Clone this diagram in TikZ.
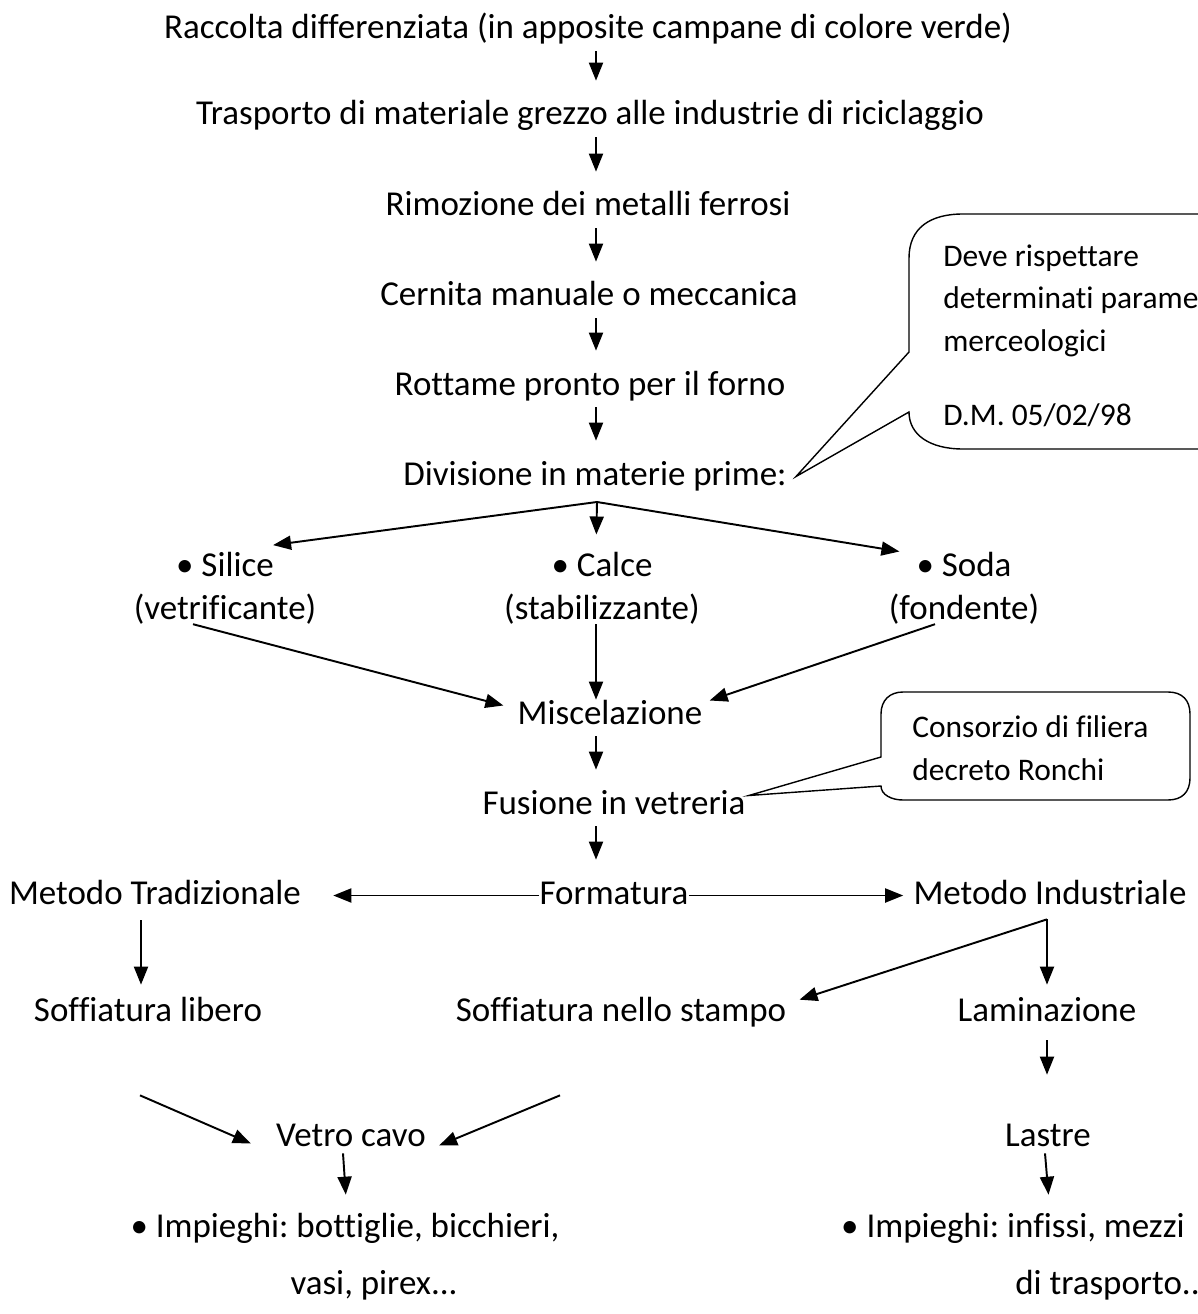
\documentclass[tikz,border=0pt]{standalone}
\usepackage{fontspec}
\setmainfont{Carlito}[Ligatures=NoCommon]
\usetikzlibrary{arrows.meta, positioning}
\frenchspacing

\begin{document}
\begin{tikzpicture}[
  x=0.02cm, y=-0.02cm,
  txt/.style={inner sep=0pt, anchor=base, font=\fontsize{19.9}{24.4}\selectfont, text height=0.48cm, text depth=0.14cm},
  twoline/.style={inner sep=0pt, anchor=base, align=center, font=\fontsize{19.9}{24.4}\selectfont},
  note/.style={inner sep=0pt, anchor=base west, align=left, font=\fontsize{17.9}{24.2}\selectfont},
  arrow/.style={-{Triangle[length=0.36cm, width=0.28cm]}, line width=1.1pt},
  down/.style={arrow, shorten <=0.1cm, shorten >=0.4cm},
  bubble/.style={line width=0.8pt, line join=miter}
]
\useasboundingbox (0,0) rectangle (1197,1314);
\coordinate (axis) at (596,0);

% main chain
\node[txt] (raccolta) at (588,39) {Raccolta differenziata (in apposite campane di colore verde)};
\node[txt] (trasporto) at (590,125) {Trasporto di materiale grezzo alle industrie di riciclaggio};
\node[txt] (rimozione) at (588,216) {Rimozione dei metalli ferrosi};
\node[txt] (cernita) at (589,306) {Cernita manuale o meccanica};
\node[txt] (rottame) at (590,395) {Rottame pronto per il forno};
\node[txt] (divisione) at (595,485) {Divisione in materie prime:};

% the base of a two-line node is its last line
\node[twoline] (silice) at (225,619) {• Silice\\(vetrificante)};
\node[twoline] (calce) at (602,619) {• Calce\\(stabilizzante)};
\node[twoline] (soda) at (964,619) {• Soda\\(fondente)};

\node[txt] (misc) at (610,724) {Miscelazione};
\node[txt] (fusione) at (614,814) {Fusione in vetreria};
\node[txt] (formatura) at (614,904) {Formatura};
\node[txt] (trad) at (155,904) {Metodo Tradizionale};
\node[txt] (indus) at (1050,904) {Metodo Industriale};

\node[txt] (soffl) at (148,1021) {Soffiatura libero};
\node[txt] (soffs) at (621,1021) {Soffiatura nello stampo};
\node[txt] (lamin) at (1047,1021) {Laminazione};
\node[txt] (vetro) at (351,1146) {Vetro cavo};
\node[txt] (lastre) at (1048,1146) {Lastre};
\node[twoline, font=\fontsize{19.9}{32.3}\selectfont] (impl) at (345,1294) {• Impieghi: bottiglie, bicchieri,\\\hspace*{1.16cm}vasi, pirex...};
\node[twoline, align=right, anchor=base east, font=\fontsize{19.9}{32.3}\selectfont] (impr) at (1185,1294) {• Impieghi: infissi, mezzi\\di trasporto..\hspace*{-0.3cm}};

% callouts
\draw[bubble] (909,352) -- (909,258) .. controls (909,228) and (930,214) .. (963,214)
  -- (1300,214) -- (1300,449) -- (963,449) .. controls (930,449) and (909,435) .. (909,412)
  -- ([xshift=0.18cm]divisione.east) -- cycle;
\node[note] (nota1) at (943,425) {Deve rispettare\\determinati parametri\\merceologici\\[0.62cm]D.M. 05/02/98};

\draw[bubble] (881,757) -- (881,714) .. controls (881,700) and (890,692) .. (903,692)
  -- (1168,692) .. controls (1182,692) and (1190,700) .. (1190,714)
  -- (1190,778) .. controls (1190,792) and (1182,800) .. (1168,800)
  -- (903,800) .. controls (892,800) and (881,795) .. (881,786)
  -- ([shift={(3,-10)}]fusione.east) -- cycle;
\node[note] (nota2) at (912,780) {Consorzio di filiera\\decreto Ronchi};

% arrows
\draw[down] (raccolta.south -| axis) -- (trasporto.north -| axis);
\draw[down] (trasporto.south -| axis) -- (rimozione.north -| axis);
\draw[down] (rimozione.south -| axis) -- (cernita.north -| axis);
\draw[down] (cernita.south -| axis) -- (rottame.north -| axis);
\draw[down] (rottame.south -| axis) -- (divisione.north -| axis);

\coordinate (split) at (597,502);
\draw[arrow, shorten >=0.97cm] (split) -- (silice.north);
\draw[arrow, shorten >=0.34cm] (split) -- (calce.north -| axis);
\draw[arrow] (split) -- ([xshift=0.22cm]soda.north west);

\draw[arrow] ([shift={(-32,0)}]silice.south) -- ([shift={(-14,-10)}]misc.west);
\draw[arrow] (calce.south -| axis) -- (misc.north -| axis);
\draw[arrow] ([shift={(-29,0)}]soda.south) -- ([shift={(7,-15)}]misc.east);

\draw[down] (misc.south -| axis) -- (fusione.north -| axis);
\draw[down] (fusione.south -| axis) -- (formatura.north -| axis);

\draw[arrow, shorten >=0.64cm] (formatura.west) -- (trad.east);
\draw[arrow, shorten >=0.2cm] (formatura.east) -- (indus.west);

\coordinate (tradax) at ([shift={(-14,0)}]trad.south);
\draw[arrow, shorten <=0.18cm, shorten >=0.24cm] (tradax) -- (tradax |- soffl.north);
\coordinate (indsplit) at ([shift={(-3,8)}]indus.south);
\draw[arrow, shorten >=0.24cm] (indsplit) -- (indsplit |- lamin.north);
\draw[arrow] (indsplit) -- ([shift={(13,3)}]soffs.north east);

\draw[arrow] ([shift={(-8,67)}]soffl.south) -- ([shift={(-25,6)}]vetro.west);
\draw[arrow] ([shift={(-61,67)}]soffs.south) -- ([shift={(13,8)}]vetro.east);
\draw[arrow, shorten <=0.24cm, shorten >=0.94cm] (lamin.south) -- (lamin.south |- lastre.north);

\draw[arrow, shorten >=0.36cm] ([shift={(-8,0)}]vetro.south) -- ([shift={(2,0)}]impl.north);
\draw[arrow, shorten >=0.36cm] ([shift={(-3,0)}]lastre.south) -- ([shift={(2,0)}]lastre.south |- impr.north);
\end{tikzpicture}
\end{document}
